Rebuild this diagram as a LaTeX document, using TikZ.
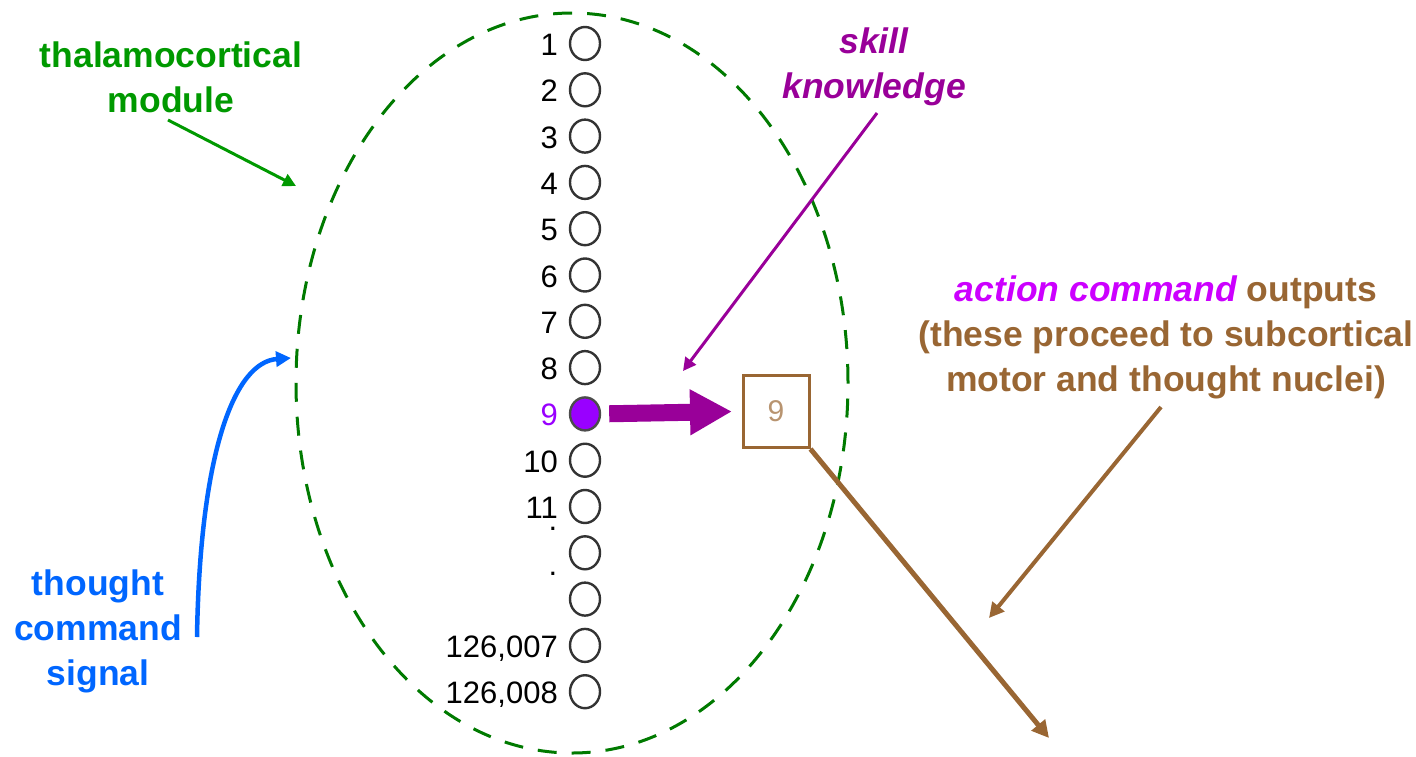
\documentclass[tikz,border=0pt]{standalone}
\usepackage{fontspec}
\setmainfont{Liberation Sans}
\usetikzlibrary{arrows.meta,shapes.geometric}
\definecolor{tgreen}{HTML}{009900}
\definecolor{egreen}{HTML}{007A00}
\definecolor{tpurple}{HTML}{990099}
\definecolor{tviolet}{HTML}{9900FF}
\definecolor{tmagenta}{HTML}{CC00FF}
\definecolor{tbrown}{HTML}{996633}
\definecolor{tblue}{HTML}{0066FF}
\begin{document}
\begin{tikzpicture}[x=1pt,y=-1pt,
  annot/.style={font=\fontsize{35.5}{45}\selectfont\bfseries, align=center, inner sep=0pt, anchor=north},
  numlab/.style={font=\fontsize{31}{31}\selectfont, inner sep=0pt, anchor=base east},
  cell/.style={draw=black!80, line width=2.4pt, ellipse, minimum width=30pt, minimum height=33pt, inner sep=0pt},
  thinarrow/.style={line width=3pt, -{Triangle[length=13pt 0,width=13pt 0]}},
]
\useasboundingbox (0,0) rectangle (1416,756);

% thalamocortical module (dashed ellipse)
\node[draw=egreen, dash pattern=on 19pt off 15pt, line width=3pt, ellipse,
      minimum width=552pt, minimum height=740pt, inner sep=0pt] (module) at (572,383) {};

% cells
\foreach \i in {1,...,8,10,11,12,13,14,15} {
  \pgfmathsetmacro\yy{43.5+(\i-1)*46.3}
  \node[cell] (c\i) at (585,\yy) {};
}
\node[cell, fill=tviolet, draw=black!70] (c9) at (585,{43.5+8*46.3}) {};

% row labels
\foreach \i/\t in {1/1,2/2,3/3,4/4,5/5,6/6,7/7,8/8,10/10,11/11,14/{126,007},15/{126,008}} {
  \node[numlab] (l\i) at ([xshift=-27pt,yshift=-12pt]c\i.center) {\t};
}
\node[numlab, text=tviolet] (l9) at ([xshift=-27pt,yshift=-12pt]c9.center) {9};
\node[numlab, anchor=base] (l12) at ([xshift=-32pt,yshift=22pt]c12.center) {.};
\node[numlab, anchor=base] (l13) at ([xshift=-32pt,yshift=24pt]c13.center) {.};

% output box
\node[draw=tbrown, line width=3pt, minimum width=66pt, minimum height=72pt, inner sep=0pt,
      font=\fontsize{30}{30}\selectfont, text=tbrown!70] (box) at (776,411.5) {9};

% big purple arrow
\draw[tpurple, line width=17pt, -{Triangle[length=42pt 0,width=43pt 0]}, shorten <=8pt]
  (c9.east) -- ([xshift=-9.5pt]box.west);

% annotations
\node[annot, text=tgreen] (thal) at (171,42) {thalamocortical\\module};
\coordinate (thalA) at (168,120);
\coordinate (thalB) at (296,186);
\draw[tgreen, thinarrow] (thalA) -- (thalB);

\node[annot, text=tpurple, font=\fontsize{35.5}{45}\selectfont\bfseries\itshape] (skill) at (874,28) {skill\\knowledge};
\coordinate (skA) at (877,113);
\coordinate (skB) at (683,371);
\draw[tpurple, thinarrow] (skA) -- (skB);

\node[annot, text=tbrown] (act) at (1166,276)
  {{\itshape\color{tmagenta}action command} outputs\\(these proceed to subcortical\\motor and thought nuclei)};
\coordinate (actA) at (1161,407);
\coordinate (actB) at (989,618);
\draw[tbrown, line width=4pt, -{Triangle[length=15pt 0,width=15pt 0]}] (actA) -- (actB);

\coordinate (outend) at (1049,738);
\draw[tbrown, line width=5pt, -{Triangle[length=17pt 0,width=17pt 0]}] (box.south east) -- (outend);

\node[annot, text=tblue] (tcs) at (98,570) {thought\\command\\signal};
\coordinate (tcsA) at (197,637);
\coordinate (tcsB) at (291,358);
\draw[tblue, line width=4.5pt, -{Triangle[length=15pt 0,width=15pt 0]}]
  (tcsA) .. controls (200,450) and (235,362) .. (tcsB);
\end{tikzpicture}
\end{document}
